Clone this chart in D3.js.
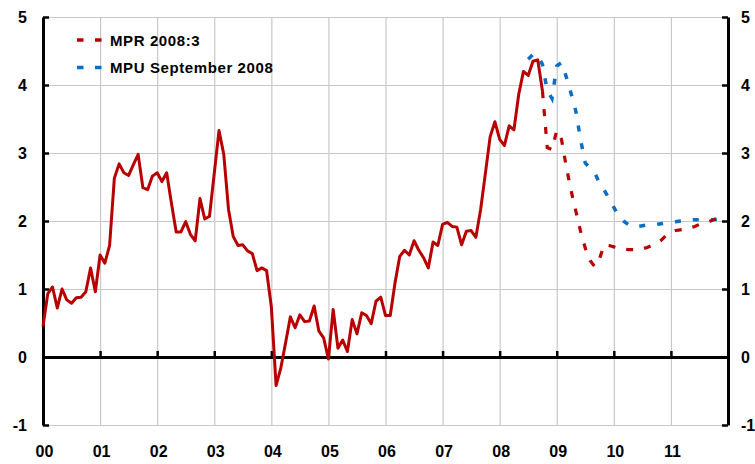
<!DOCTYPE html>
<html>
<head>
<meta charset="utf-8">
<script src="https://cdn.jsdelivr.net/npm/d3@7/dist/d3.min.js"></script>
<style>
  html, body { margin: 0; padding: 0; background: #fff; }
  svg { display: block; font-family: "Liberation Sans", Arial, sans-serif; }
</style>
</head>
<body>
<svg id="chart" width="755" height="464"></svg>
<script>
// ---- data ----
const yearLabels = ["00","01","02","03","04","05","06","07","08","09","10","11"];
const yTicks = [-1, 0, 1, 2, 3, 4, 5];
const startYear = 2000;

// Outcome, monthly from Jan 2000 to Oct 2008
const outcome = [
  0.45, 0.93, 1.03, 0.72, 1.00, 0.84, 0.79, 0.87, 0.88, 0.96, 1.31, 0.96,
  1.50, 1.38, 1.64, 2.63, 2.84, 2.71, 2.67, 2.83, 2.98, 2.49, 2.46, 2.66,
  2.71, 2.58, 2.71, 2.26, 1.84, 1.84, 1.99, 1.80, 1.71, 2.33, 2.03, 2.07,
  2.70, 3.33, 2.98, 2.17, 1.77, 1.64, 1.65, 1.56, 1.52, 1.27, 1.31, 1.27,
  0.74, -0.42, -0.16, 0.21, 0.59, 0.43, 0.62, 0.52, 0.53, 0.75, 0.38, 0.28,
  -0.03, 0.70, 0.13, 0.25, 0.08, 0.55, 0.34, 0.65, 0.61, 0.49, 0.82, 0.88,
  0.61, 0.61, 1.09, 1.48, 1.57, 1.50, 1.71, 1.57, 1.46, 1.31, 1.69, 1.64,
  1.95, 1.98, 1.92, 1.91, 1.65, 1.85, 1.86, 1.76, 2.17, 2.70, 3.24, 3.46,
  3.20, 3.11, 3.40, 3.34, 3.86, 4.20, 4.14, 4.35, 4.37, 3.91
];

// MPR 2008:3 forecast, monthly from Oct 2008 to Dec 2011
const mprStart = 105;
const mpr = [
  3.91, 3.08, 3.05, 3.33, 3.20, 2.80, 2.45, 2.15, 1.85, 1.60, 1.42, 1.33,
  1.45, 1.65, 1.64, 1.62, 1.60, 1.59, 1.58, 1.58, 1.58, 1.59, 1.61, 1.64,
  1.67, 1.72, 1.79, 1.84, 1.86, 1.87, 1.88, 1.90, 1.92, 1.95, 1.97, 1.99,
  2.02, 2.05, 2.07
];

// MPU September 2008, monthly from Jul 2008 to Dec 2011
const mpuStart = 102;
const mpu = [
  4.38, 4.45, 4.44, 4.30, 3.92, 3.80, 4.28, 4.33, 4.12, 3.88, 3.62, 3.20,
  2.85, 2.78, 2.71, 2.55, 2.45, 2.33, 2.20, 2.07, 2.00, 1.95, 1.91, 1.92,
  1.93, 1.94, 1.94, 1.95, 1.96, 1.97, 1.98, 1.99, 2.00, 2.01, 2.02, 2.02,
  2.02, 2.02, 2.02, 2.02, 2.03, 2.03
];

const legendItems = [
  { label: "MPR 2008:3", color: "#b80000", dash: "7,11" },
  { label: "MPU September 2008", color: "#0a6fc4", dash: "6,12" }
];

// ---- layout ----
const svg = d3.select("#chart");
const pL = 43, pR = 728, pT = 17, pB = 425;
const x = d3.scaleLinear().domain([startYear, startYear + 12]).range([pL, pR]);
const y = d3.scaleLinear().domain([-1, 5]).range([pB, pT]);
const gridColor = "#c8c8c8";
const redColor = legendItems[0].color;
const blueColor = legendItems[1].color;
const fontFam = "'Liberation Sans', Arial, sans-serif";
const numFmt = d => String(d);

const yearTicks = d3.range(startYear, startYear + 12);

// horizontal grid
svg.append("g")
  .attr("transform", `translate(${pL},0)`)
  .call(d3.axisLeft(y).tickValues(yTicks).tickSize(-(pR - pL)).tickFormat(""))
  .call(g => g.select(".domain").remove())
  .call(g => g.selectAll("line").attr("stroke", gridColor).attr("stroke-width", 1.2));

// vertical grid
svg.append("g")
  .attr("transform", `translate(0,${pB})`)
  .call(d3.axisBottom(x).tickValues(yearTicks.slice(1)).tickSize(-(pB - pT)).tickFormat(""))
  .call(g => g.select(".domain").remove())
  .call(g => g.selectAll("line").attr("stroke", gridColor).attr("stroke-width", 1.2));

// zero line with year ticks
svg.append("g")
  .attr("transform", `translate(0,${y(0)})`)
  .call(d3.axisBottom(x).tickValues(yearTicks.slice(1)).tickSize(-6).tickSizeOuter(0).tickFormat(""))
  .call(g => g.select(".domain").attr("stroke", "#000").attr("stroke-width", 3))
  .call(g => g.selectAll(".tick line").attr("stroke", "#000").attr("stroke-width", 2.5));

// x labels
svg.append("g")
  .attr("transform", `translate(1,${pB})`)
  .call(d3.axisBottom(x).tickValues(yearTicks).tickSize(0).tickPadding(21)
        .tickFormat((d, i) => yearLabels[i]))
  .call(g => g.select(".domain").remove())
  .call(g => g.selectAll("text").attr("font-size", 16).attr("font-weight", "bold")
        .attr("fill", "#000").attr("font-family", fontFam));

// left axis
svg.append("g")
  .attr("transform", `translate(${pL},0)`)
  .call(d3.axisLeft(y).tickValues(yTicks).tickSize(-6).tickSizeOuter(0).tickPadding(16).tickFormat(numFmt))
  .call(g => g.select(".domain").attr("stroke", "#000").attr("stroke-width", 3))
  .call(g => g.selectAll(".tick line").attr("stroke", "#000").attr("stroke-width", 2.5))
  .call(g => g.selectAll("text").attr("font-size", 16).attr("font-weight", "bold")
        .attr("fill", "#000").attr("font-family", fontFam));

// right axis
svg.append("g")
  .attr("transform", `translate(${pR},0)`)
  .call(d3.axisRight(y).tickValues(yTicks).tickSize(-6).tickSizeOuter(0).tickPadding(13).tickFormat(numFmt))
  .call(g => g.select(".domain").attr("stroke", "#000").attr("stroke-width", 3))
  .call(g => g.selectAll(".tick line").attr("stroke", "#000").attr("stroke-width", 2.5))
  .call(g => g.selectAll("text").attr("font-size", 16).attr("font-weight", "bold")
        .attr("fill", "#000").attr("font-family", fontFam));

// lines
const line = d3.line()
  .x(d => x(startYear + d.i / 12))
  .y(d => y(d.v));

const toPts = (arr, start) => arr.map((v, k) => ({ i: start + k, v }));

svg.append("path")
  .datum(toPts(mpu, mpuStart))
  .attr("d", line)
  .attr("fill", "none")
  .attr("stroke", blueColor)
  .attr("stroke-width", 3.5)
  .attr("stroke-dasharray", legendItems[1].dash);

svg.append("path")
  .datum(toPts(mpr, mprStart))
  .attr("d", line)
  .attr("fill", "none")
  .attr("stroke", redColor)
  .attr("stroke-width", 3.2)
  .attr("stroke-dasharray", legendItems[0].dash);

svg.append("path")
  .datum(toPts(outcome, 0))
  .attr("d", line)
  .attr("fill", "none")
  .attr("stroke", redColor)
  .attr("stroke-width", 3)
  .attr("stroke-linejoin", "round");

// legend
const legend = svg.append("g");
legendItems.forEach((it, k) => {
  const ly = 40 + k * 27.5;
  legend.append("line")
    .attr("x1", 77).attr("x2", 103).attr("y1", ly).attr("y2", ly)
    .attr("stroke", it.color).attr("stroke-width", 3.5)
    .attr("stroke-dasharray", "6.5,11.5");
  legend.append("text")
    .attr("x", 110).attr("y", ly + 5.5)
    .attr("font-size", 15).attr("font-weight", "bold").attr("fill", "#000")
    .attr("font-family", fontFam)
    .attr("letter-spacing", 0.6)
    .text(it.label);
});
</script>
</body>
</html>
